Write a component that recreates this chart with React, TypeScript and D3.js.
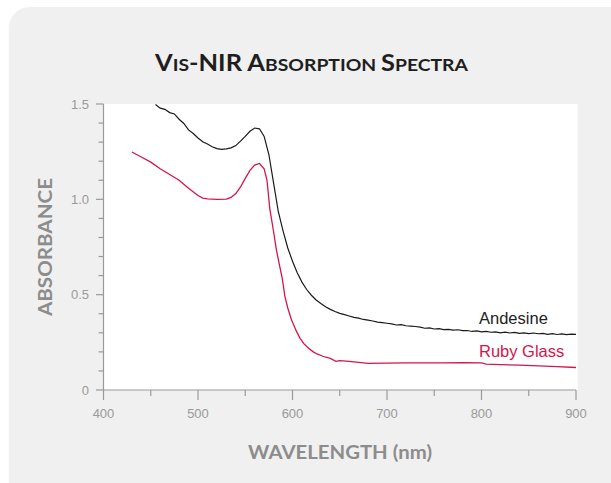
import React from "react";
import * as d3 from "d3";

const xTicks = [400, 500, 600, 700, 800, 900];
const xMinorTicks = [450, 550, 650, 750, 850];
const yTicks = [0, 0.5, 1.0, 1.5];
const yTickLabels = ["0", "0.5", "1.0", "1.5"];
const yMinorTicks = [0.1, 0.2, 0.3, 0.4, 0.6, 0.7, 0.8, 0.9, 1.1, 1.2, 1.3, 1.4];

const andesineWl = [
  455, 460, 465, 470, 475, 480, 485, 490, 495, 500, 505, 510, 515, 520, 525, 530, 535, 540, 545, 550,
  555, 560, 565, 570, 575, 580, 585, 590, 595, 600, 605, 610, 615, 620, 625, 630, 635, 640, 645, 650,
  655, 660, 665, 670, 675, 680, 685, 690, 695, 700, 705, 710, 715, 720, 725, 730, 735, 740, 745, 750,
  755, 760, 765, 770, 775, 780, 785, 790, 795, 800, 805, 810, 815, 820, 825, 830, 835, 840, 845, 850,
  855, 860, 865, 870, 875, 880, 885, 890, 895, 900,
];
const andesineAbs = [
  1.497, 1.478, 1.472, 1.455, 1.448, 1.42, 1.398, 1.364, 1.345, 1.322, 1.302, 1.29, 1.276, 1.266, 1.262, 1.265, 1.27, 1.282, 1.305, 1.33,
  1.357, 1.374, 1.37, 1.33, 1.235, 1.085, 0.935, 0.835, 0.745, 0.675, 0.615, 0.566, 0.527, 0.497, 0.472, 0.454, 0.437, 0.423, 0.412, 0.402,
  0.395, 0.388, 0.381, 0.377, 0.37, 0.366, 0.362, 0.356, 0.353, 0.35, 0.347, 0.341, 0.343, 0.337, 0.335, 0.333, 0.33, 0.324, 0.326, 0.32,
  0.322, 0.317, 0.318, 0.314, 0.316, 0.311, 0.312, 0.307, 0.31, 0.305, 0.307, 0.303, 0.305, 0.3, 0.303, 0.299, 0.302, 0.297, 0.3, 0.296,
  0.299, 0.295, 0.297, 0.292, 0.296, 0.291, 0.294, 0.29, 0.293, 0.292,
];

const rubyWl = [
  430, 440, 450, 460, 470, 480, 490, 500, 505, 510, 520, 530, 535, 540, 545, 550, 555, 560, 565, 570,
  573, 576, 580, 583, 586, 589, 592, 595, 599, 604, 608, 612, 617, 622, 626, 632, 640, 646, 650, 660,
  670, 680, 700, 720, 740, 760, 780, 800, 805, 820, 840, 860, 880, 900,
];
const rubyAbs = [
  1.248, 1.222, 1.195, 1.16, 1.13, 1.1, 1.058, 1.02, 1.006, 1.002, 1.0, 1.001, 1.01, 1.03, 1.065, 1.11, 1.152, 1.18, 1.188, 1.16,
  1.1, 0.95, 0.83, 0.734, 0.66, 0.59, 0.49, 0.43, 0.367, 0.31, 0.271, 0.243, 0.219, 0.2, 0.189, 0.177, 0.166, 0.15, 0.154, 0.15,
  0.145, 0.14, 0.141, 0.142, 0.142, 0.142, 0.143, 0.142, 0.136, 0.133, 0.13, 0.127, 0.123, 0.118,
];

const seriesNames = ["Andesine", "Ruby Glass"];
const seriesColors = ["#1a1a1a", "#d5144b"];

export default function App() {
  const W = 611;
  const H = 483;
  const left = 103.5;
  const right = 576;
  const top = 104;
  const bottom = 390;

  const x = d3.scaleLinear().domain([400, 900]).range([left, right]);
  const y = d3.scaleLinear().domain([0, 1.5]).range([bottom, top]);

  const line = d3
    .line<[number, number]>()
    .x((d) => x(d[0]))
    .y((d) => y(d[1]))
    .curve(d3.curveLinear);

  const andesine: [number, number][] = andesineWl.map((w, i) => [w, andesineAbs[i]]);
  const ruby: [number, number][] = rubyWl.map((w, i) => [w, rubyAbs[i]]);

  const axisColor = "#9a9a9a";
  const tickFont = "'Liberation Sans', Arial, sans-serif";
  const titleFont = "Lato, 'Open Sans', sans-serif";

  return (
    <svg
      width={W}
      height={H}
      style={{ position: "absolute", left: 0, top: 0, background: "#ffffff" }}
    >
      <rect x={8.7} y={7} width={W + 30} height={H + 30} rx={21} ry={21} fill="#f0f0f0" />
      {/* title */}
      <text
        x={155}
        y={71}
        fontFamily={titleFont}
        fontWeight={700}
        fill="#1e1e1e"
        textLength={313}
        lengthAdjust="spacingAndGlyphs"
      >
        <tspan fontSize={23}>V</tspan>
        <tspan fontSize={17.5}>IS</tspan>
        <tspan fontSize={23}>-NIR A</tspan>
        <tspan fontSize={17.5}>BSORPTION </tspan>
        <tspan fontSize={23}>S</tspan>
        <tspan fontSize={17.5}>PECTRA</tspan>
      </text>

      {/* plot area */}
      <rect x={left} y={top} width={577.7 - left} height={bottom - top} fill="#ffffff" />

      {/* lines */}
      <path d={line(ruby) || ""} fill="none" stroke={seriesColors[1]} strokeWidth={1.3} />
      <path d={line(andesine) || ""} fill="none" stroke={seriesColors[0]} strokeWidth={1.2} />

      {/* axes */}
      <line x1={left} x2={right} y1={bottom} y2={bottom} stroke={axisColor} strokeWidth={1.2} />
      <line x1={left} x2={left} y1={top} y2={bottom} stroke={axisColor} strokeWidth={1.2} />
      {xTicks.map((t) => (
        <line key={"xt" + t} x1={x(t)} x2={x(t)} y1={bottom} y2={bottom + 10} stroke={axisColor} strokeWidth={1.2} />
      ))}
      {xMinorTicks.map((t) => (
        <line key={"xm" + t} x1={x(t)} x2={x(t)} y1={bottom} y2={bottom + 6} stroke={axisColor} strokeWidth={1.2} />
      ))}
      {yTicks.map((t) => (
        <line key={"yt" + t} x1={left - 7.5} x2={left} y1={y(t)} y2={y(t)} stroke={axisColor} strokeWidth={1.2} />
      ))}
      {yMinorTicks.map((t) => (
        <line key={"ym" + t} x1={left - 5} x2={left} y1={y(t)} y2={y(t)} stroke={axisColor} strokeWidth={1.2} />
      ))}
      {xTicks.map((t) => (
        <text
          key={"xl" + t}
          x={x(t)}
          y={418}
          textAnchor="middle"
          fontFamily={tickFont}
          fontSize={13}
          fill="#9a9a9a"
        >
          {t}
        </text>
      ))}
      {yTicks.map((t, i) => (
        <text
          key={"yl" + t}
          x={89}
          y={y(t) + 4.5}
          textAnchor="end"
          fontFamily={tickFont}
          fontSize={13}
          fill="#9a9a9a"
        >
          {yTickLabels[i]}
        </text>
      ))}

      {/* axis titles */}
      <text
        x={340}
        y={458.5}
        textAnchor="middle"
        fontFamily={titleFont}
        fontWeight={700}
        fontSize={18.5}
        fill="#8c8c8c"
        textLength={184}
        lengthAdjust="spacingAndGlyphs"
      >
        WAVELENGTH (nm)
      </text>
      <text
        transform="translate(51.5,247) rotate(-90)"
        textAnchor="middle"
        fontFamily={titleFont}
        fontWeight={700}
        fontSize={18.5}
        fill="#8c8c8c"
        textLength={138}
        lengthAdjust="spacingAndGlyphs"
      >
        ABSORBANCE
      </text>

      {/* legend labels */}
      <text x={479} y={324} fontFamily={tickFont} fontSize={16.5} fill="#222222">
        {seriesNames[0]}
      </text>
      <text x={479} y={356.7} fontFamily={tickFont} fontSize={16.5} fill={seriesColors[1]}>
        {seriesNames[1]}
      </text>
    </svg>
  );
}
